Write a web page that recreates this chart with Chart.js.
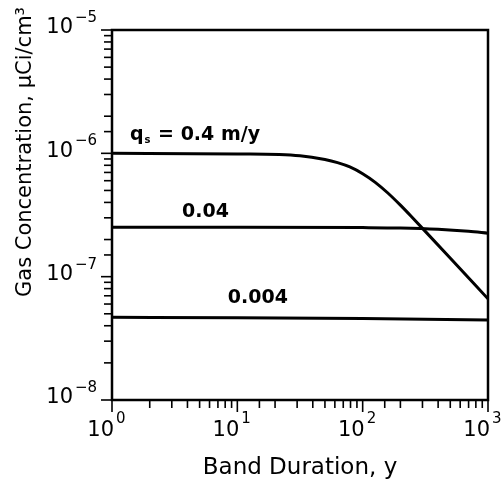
<!DOCTYPE html>
<html>
<head>
<meta charset="utf-8">
<script src="https://cdn.jsdelivr.net/npm/chart.js@4.4.1/dist/chart.umd.min.js"></script>
<style>
  html, body { margin: 0; padding: 0; background: #fff; }
  #wrap { width: 504px; height: 484px; }
</style>
</head>
<body>
<div id="wrap"><canvas id="gasChart" width="504" height="484"></canvas></div>
<script>
// Band duration (y) and gas concentration (uCi/cm3)
var q04Years = [1, 10, 31.6, 50, 63, 79, 100, 126, 158, 200, 251, 316, 501, 1000];
var q04Conc  = [1.0e-6, 9.89e-7, 9.55e-7, 8.91e-7, 8.41e-7, 7.76e-7, 6.84e-7, 5.82e-7, 4.79e-7, 3.8e-7, 2.99e-7, 2.33e-7, 1.41e-7, 6.61e-8];

var q004Years = [1, 10, 100, 200, 400, 700, 1000];
var q004Conc  = [2.52e-7, 2.52e-7, 2.5e-7, 2.48e-7, 2.42e-7, 2.33e-7, 2.25e-7];

var q0004Years = [1, 10, 100, 1000];
var q0004Conc  = [4.68e-8, 4.65e-8, 4.58e-8, 4.45e-8];

// decade tick labels: base 10 with exponent
var xExponents = ['0', '1', '2', '3'];
var yExponents = ['\u22128', '\u22127', '\u22126', '\u22125'];

// curve labels, anchored in data units
var curveLabels = [
    { x: 1.39, y: 1.28e-6, main: 'q', sub: 's', rest: ' = 0.4 m/y' },
    { x: 3.62, y: 3.04e-7, main: '0.04' },
    { x: 8.4,  y: 6.1e-8,  main: '0.004' }
];

function pts(xs, ys) {
    return xs.map(function (x, i) { return { x: x, y: ys[i] }; });
}

function isDecade(v) {
    var l = Math.log10(v);
    return Math.abs(l - Math.round(l)) < 1e-9;
}

var FONT = '"DejaVu Sans", sans-serif';

var decorPlugin = {
    id: 'decor',
    afterDraw: function (chart) {
        var ctx = chart.ctx;
        var a = chart.chartArea;
        var xs = chart.scales.x, ys = chart.scales.y;
        ctx.save();
        ctx.strokeStyle = '#000';
        ctx.fillStyle = '#000';

        // frame
        ctx.lineWidth = 2.5;
        ctx.strokeRect(a.left, a.top, a.right - a.left, a.bottom - a.top);

        // tick marks, outward
        ctx.lineWidth = 1.6;
        xs.ticks.forEach(function (t) {
            var px = xs.getPixelForValue(t.value);
            var len = isDecade(t.value) ? 12 : 8;
            ctx.beginPath();
            ctx.moveTo(px, a.bottom);
            ctx.lineTo(px, a.bottom + len);
            ctx.stroke();
        });
        ys.ticks.forEach(function (t) {
            var py = ys.getPixelForValue(t.value);
            var len = isDecade(t.value) ? 11 : 8;
            ctx.beginPath();
            ctx.moveTo(a.left, py);
            ctx.lineTo(a.left - len, py);
            ctx.stroke();
        });

        // decade labels
        ctx.textBaseline = 'middle';
        xs.ticks.filter(function (t) { return isDecade(t.value); }).forEach(function (t, i) {
            var px = xs.getPixelForValue(t.value);
            ctx.font = '21px ' + FONT;
            ctx.textAlign = 'right';
            ctx.fillText('10', px + 2, a.bottom + 31);
            ctx.font = '15px ' + FONT;
            ctx.textAlign = 'left';
            ctx.fillText(xExponents[i], px + 4, a.bottom + 19);
        });
        ys.ticks.filter(function (t) { return isDecade(t.value); }).forEach(function (t, i) {
            var py = ys.getPixelForValue(t.value);
            ctx.font = '21px ' + FONT;
            ctx.textAlign = 'right';
            ctx.fillText('10', a.left - 39, py - 2);
            ctx.font = '15px ' + FONT;
            ctx.textAlign = 'left';
            ctx.fillText(yExponents[i], a.left - 37, py - 12);
        });

        // axis titles
        ctx.font = '23px ' + FONT;
        ctx.textAlign = 'center';
        ctx.textBaseline = 'alphabetic';
        ctx.fillText('Band Duration, y', 300, 474);

        ctx.save();
        ctx.translate(31, 152);
        ctx.rotate(-Math.PI / 2);
        ctx.font = '21px ' + FONT;
        ctx.fillText('Gas Concentration, \u03bcCi/cm\u00b3', 0, 0);
        ctx.restore();

        // curve labels
        ctx.textAlign = 'left';
        curveLabels.forEach(function (lb) {
            var px = xs.getPixelForValue(lb.x);
            var py = ys.getPixelForValue(lb.y);
            ctx.font = 'bold 19px ' + FONT;
            ctx.fillText(lb.main, px, py);
            if (lb.sub) {
                var w = ctx.measureText(lb.main).width;
                ctx.font = 'bold 10px ' + FONT;
                ctx.fillText(lb.sub, px + w + 1, py + 3);
                var w2 = ctx.measureText(lb.sub).width;
                ctx.font = 'bold 19px ' + FONT;
                ctx.fillText(lb.rest, px + w + w2 + 2, py);
            }
        });
        ctx.restore();
    }
};

var lineStyle = {
    borderColor: '#000',
    borderWidth: 3,
    pointRadius: 0,
    fill: false,
    cubicInterpolationMode: 'monotone'
};

var ctx1 = document.getElementById('gasChart').getContext('2d');
var gasChart = new Chart(ctx1, {
    type: 'line',
    data: {
        datasets: [
            Object.assign({ label: '0.4', data: pts(q04Years, q04Conc) }, lineStyle),
            Object.assign({ label: '0.04', data: pts(q004Years, q004Conc) }, lineStyle),
            Object.assign({ label: '0.004', data: pts(q0004Years, q0004Conc) }, lineStyle)
        ]
    },
    options: {
        responsive: false,
        animation: false,
        events: [],
        layout: { padding: { left: 104, right: 16, top: 30, bottom: 76 } },
        plugins: {
            legend: { display: false },
            tooltip: { enabled: false }
        },
        scales: {
            x: {
                type: 'logarithmic',
                min: 1,
                max: 1000,
                grid: { display: false },
                border: { display: false },
                ticks: { display: false }
            },
            y: {
                type: 'logarithmic',
                min: 1e-8,
                max: 1e-5,
                grid: { display: false },
                border: { display: false },
                ticks: { display: false }
            }
        }
    },
    plugins: [decorPlugin]
});
</script>
</body>
</html>
